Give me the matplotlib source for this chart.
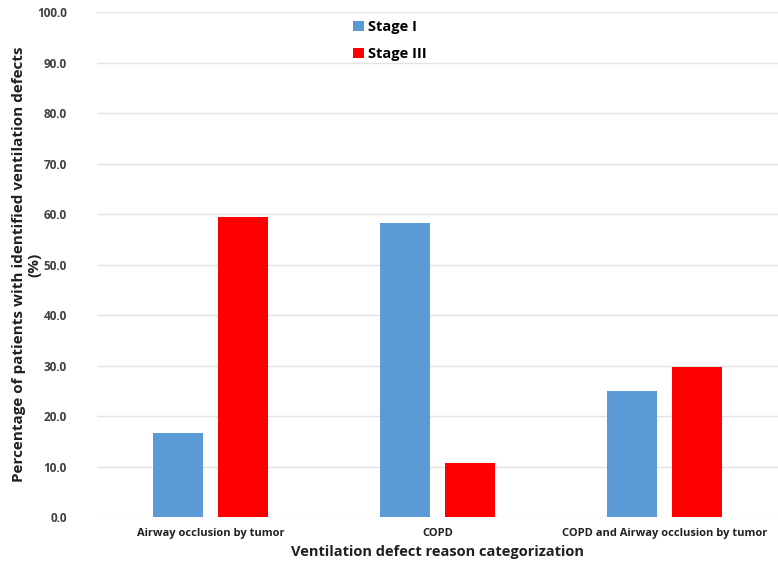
import numpy as np
import matplotlib
matplotlib.use("Agg")
import matplotlib.pyplot as plt

# ---------------- data ----------------
categories = ["Airway occlusion by tumor", "COPD", "COPD and Airway occlusion by tumor"]
stage_1 = [16.7, 58.3, 25.0]
stage_3 = [59.5, 10.8, 29.7]
yticks = [0, 10, 20, 30, 40, 50, 60, 70, 80, 90, 100]
# --------------------------------------

plt.rcParams["font.family"] = ["Open Sans", "DejaVu Sans"]

fig = plt.figure(figsize=(7.78, 5.74), dpi=100)
ax = fig.add_axes([0.125, 0.099, 0.875, 0.88])

x = np.arange(len(categories))
w = 0.22
off = 0.143
ax.bar(x - off, stage_1, width=w, color="#5B9BD5", label="Stage I", zorder=3)
ax.bar(x + off, stage_3, width=w, color="#FF0000", label="Stage III", zorder=3)

ax.set_xlim(-0.5, 2.5)
ax.set_ylim(0, 100)
ax.set_yticks(yticks)
ax.set_yticklabels([f"{v:.1f}" for v in yticks], fontsize=8.5, fontweight="bold", color="#404040")
ax.set_xticks(x)
ax.set_xticklabels(categories, fontsize=8, fontweight="bold", color="#202020")
ax.tick_params(length=0, pad=8)
ax.tick_params(axis="y", pad=22)

ax.grid(axis="y", color="#e3e3e3", linewidth=1.0, zorder=0)
for s in ax.spines.values():
    s.set_visible(False)

ax.set_ylabel("Percentage of patients with identified ventilation defects\n(%)",
              fontsize=11, fontweight="bold", color="#202020", linespacing=1.1,
              labelpad=-3)
ax.set_xlabel("Ventilation defect reason categorization",
              fontsize=10.5, fontweight="bold", color="#202020", labelpad=4)

ax.legend(loc="upper center", bbox_to_anchor=(0.43, 1.01), frameon=False,
          prop={"size": 10.5, "weight": "bold"}, handlelength=0.7, handleheight=0.7,
          handletextpad=0.3, labelspacing=0.9)

fig.savefig("out.png", dpi=100)
